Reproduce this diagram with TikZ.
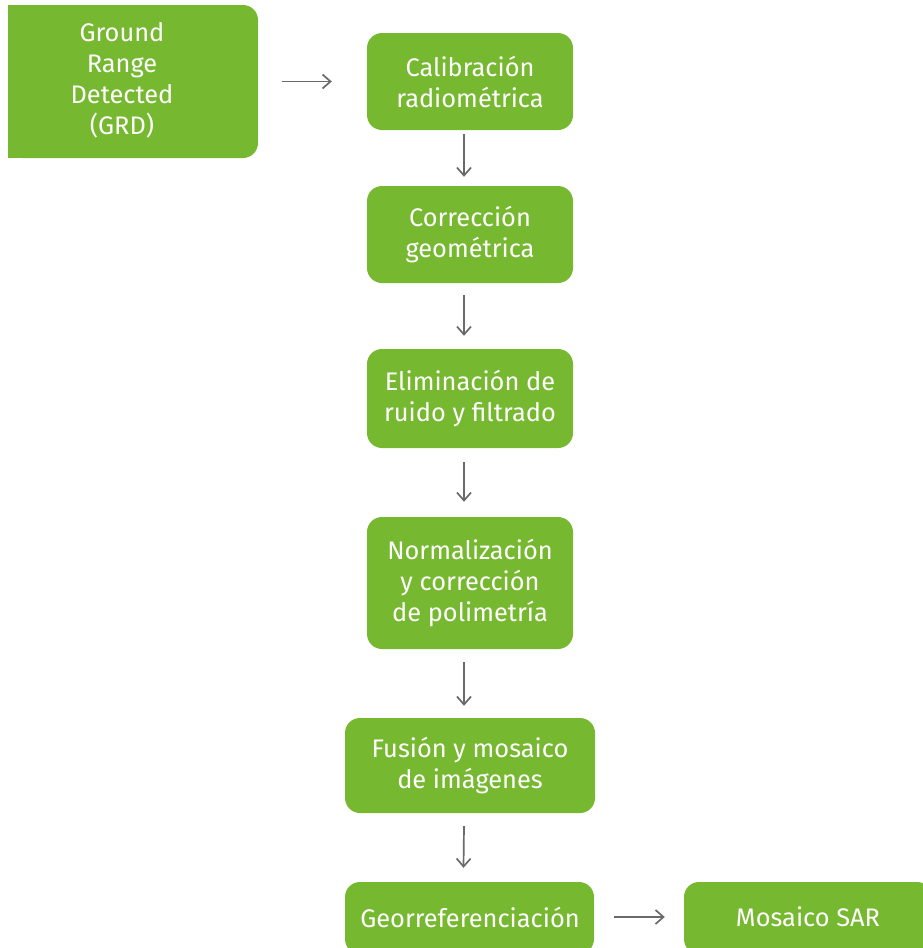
\documentclass[tikz,border=0pt]{standalone}
\usepackage{fontspec}
\setmainfont{Fira Sans}
\usetikzlibrary{arrows.meta}
\definecolor{grn}{HTML}{76B82F}
\definecolor{arr}{HTML}{6A6A6A}
\tikzset{boxfont/.style={font=\fontsize{25.4}{31}\selectfont}}
\begin{document}
\begin{tikzpicture}[x=1pt,y=-1pt,
  box/.style={fill=grn,rounded corners=15pt,inner sep=0pt,text=white,align=center,boxfont},
  conn/.style={draw=arr,line width=1.7pt,-{Straight Barb[length=8pt,width=14pt,line width=1.7pt]}}]
\useasboundingbox (0,0) rectangle (923,948);
% GRD box (square left corners)
\node[box,minimum width=250pt,minimum height=153pt] (grdbox) at (133,81.5) {};
\fill[grn] (8,5) rectangle (40,158);
\node[text=white,align=center,boxfont] (grd) at (122,80) {Ground\\Range\\Detected\\(GRD)};
\node[box,minimum width=206pt,minimum height=97pt] (cal) at (470,81.5) {Calibración\\radiométrica};
\node[box,minimum width=206pt,minimum height=97pt] (geo) at (470,234.5) {Corrección\\geométrica};
\node[box,minimum width=206pt,minimum height=99pt] (eli) at (470,398.5) {Eliminación de\\ruido y filtrado};
\node[box,minimum width=206pt,minimum height=132pt] (nor) at (470,583) {Normalización\\y corrección\\de polimetría};
\node[box,minimum width=250pt,minimum height=95pt] (fus) at (470,765.5) {Fusión y mosaico\\de imágenes};
\node[box,minimum width=249pt,minimum height=72pt] (ref) at (469.5,918) {};
\node[text=white,boxfont] (reft) at (470,917) {Georreferenciación};
\node[box,minimum width=248pt,minimum height=72pt] (mos) at (808,918) {};
\node[text=white,boxfont] (most) at (808,917) {Mosaico SAR};
% connectors
\draw[conn] ([xshift=24pt]grdbox.east |- cal.west) -- ([xshift=-35pt]cal.west);
\draw[conn] ([xshift=-6pt,yshift=-4pt]cal.south) -- ([xshift=-6pt,yshift=9pt]geo.north);
\draw[conn] ([xshift=-6pt,yshift=-12pt]geo.south) -- ([xshift=-6pt,yshift=13pt]eli.north);
\draw[conn] ([xshift=-6pt,yshift=-14pt]eli.south) -- ([xshift=-6pt,yshift=15pt]nor.north);
\draw[conn] ([xshift=-6pt,yshift=-13pt]nor.south) -- ([xshift=-6pt,yshift=12pt]fus.north);
\draw[conn] ([xshift=-6pt,yshift=-13pt]fus.south) -- ([xshift=-6pt,yshift=14pt]ref.north);
\draw[conn] ([xshift=20pt]ref.east |- reft.east) -- ([xshift=-19pt]mos.west |- most.west);
\end{tikzpicture}
\end{document}
